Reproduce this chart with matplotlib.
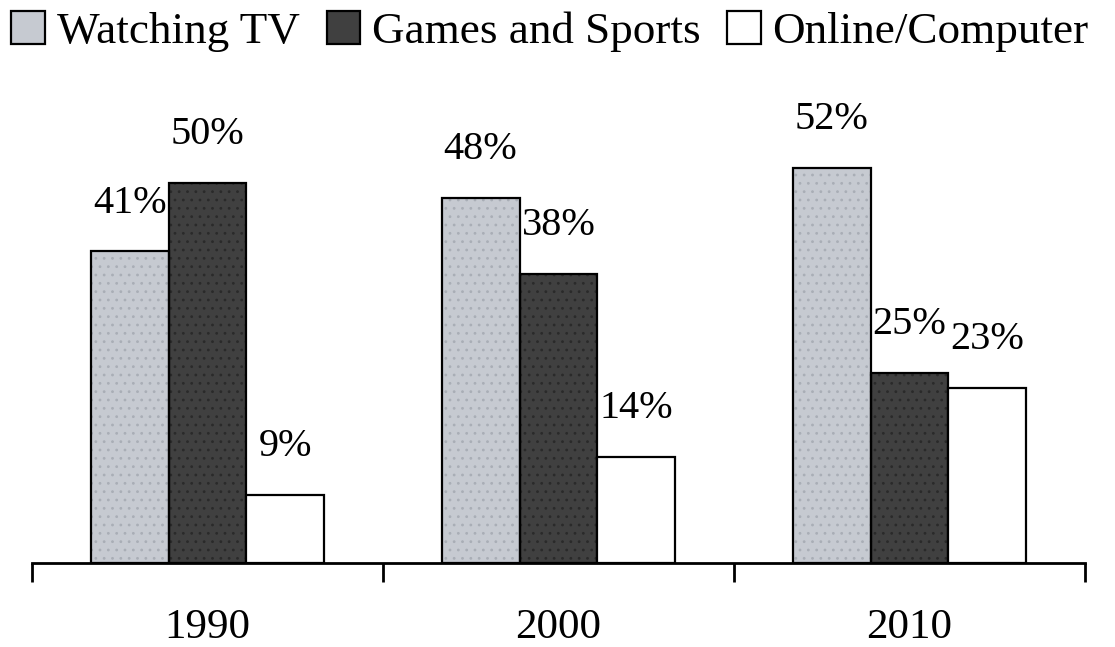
import matplotlib
matplotlib.use('Agg')
import matplotlib.pyplot as plt
from matplotlib.patches import Patch
import numpy as np

plt.rcParams['font.family'] = ['Liberation Serif', 'DejaVu Serif']

years = ['1990', '2000', '2010']
series = ['Watching TV', 'Games and Sports', 'Online/Computer']
tv = [41, 48, 52]
games = [50, 38, 25]
online = [9, 14, 23]

colors = ['#c6cad1', '#404040', '#ffffff']
# speckle texture drawn as a faint hatch layer under the outlined bar
speckle = ['#a9aeb6', '#2a2a2a', None]

fig = plt.figure(figsize=(11.15, 6.47), dpi=100)
ax = fig.add_axes([0.0287, 0.1298, 0.9444, 0.7048])

x = np.arange(len(years))
w = 0.222
plt.rcParams['hatch.linewidth'] = 0.8
for i, vals in enumerate([tv, games, online]):
    pos = x + (i - 1) * w
    if speckle[i]:
        ax.bar(pos, vals, w, color=colors[i], edgecolor=speckle[i], linewidth=0,
               hatch='..', zorder=2)
    ax.bar(pos, vals, w, color=colors[i] if not speckle[i] else 'none',
           edgecolor='black', linewidth=1.6, zorder=3)
    for xi, v in zip(pos, vals):
        ax.annotate(f'{v}%', (xi, v), xytext=(0, 28), textcoords='offset points',
                    ha='center', va='baseline', fontsize=29)

ax.set_xlim(-0.5, 2.5)
ax.set_ylim(0, 60)
ax.set_xticks([-0.5, 0.5, 1.5, 2.5])
ax.set_xticklabels([])
ax.set_xticks(x, minor=True)
ax.set_xticklabels(years, minor=True, fontsize=31)
ax.tick_params(axis='x', which='major', direction='out', length=14, width=2)
ax.tick_params(axis='x', which='minor', length=0, pad=33)
ax.set_yticks([])
for s in ['top', 'right', 'left']:
    ax.spines[s].set_visible(False)
ax.spines['bottom'].set_linewidth(2)

handles = [Patch(facecolor=colors[i], edgecolor='black', linewidth=1.6) for i in range(3)]
fig.legend(handles, series, loc='upper left', bbox_to_anchor=(-0.014, 1.025), ncol=3,
           frameon=False, fontsize=32.5, handlelength=0.75, handleheight=0.75,
           handletextpad=0.25, columnspacing=0.6, borderaxespad=0.2)

fig.savefig('out.png', dpi=100)
